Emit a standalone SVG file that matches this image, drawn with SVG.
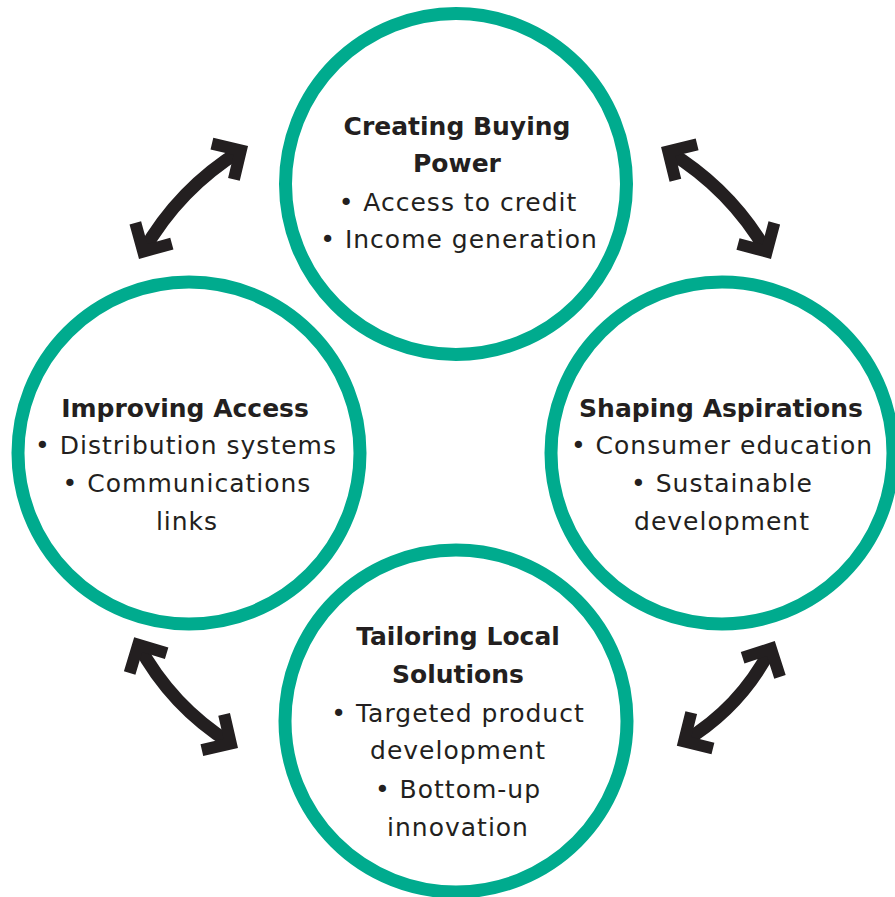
<svg xmlns="http://www.w3.org/2000/svg" width="895" height="897" viewBox="0 0 895 897">
<style>
.ring{fill:#fff;stroke:#00ab8e;stroke-width:13}
.t{font-family:"DejaVu Sans",sans-serif;font-size:25px;fill:#231f20;text-anchor:middle;letter-spacing:1px}
.b{font-weight:bold;letter-spacing:0}
.shaft{fill:none;stroke:#231f20;stroke-width:13;marker-start:url(#head);marker-end:url(#head)}
</style>
<defs>
<marker id="head" markerUnits="userSpaceOnUse" orient="auto-start-reverse" refX="0" refY="0" markerWidth="60" markerHeight="60" overflow="visible">
<path d="M -21 -21 L 0 0 L -21 21" fill="none" stroke="#231f20" stroke-width="12" stroke-linejoin="miter" stroke-miterlimit="10"/>
</marker>
</defs>
<rect width="895" height="897" fill="#fff"/>
<g id="connectors">
<path class="shaft" d="M 143.2 251.5 Q 179 188.5 240.8 150.5"/>
<path class="shaft" d="M 668.3 151.4 Q 730.3 188.9 766.7 251.6"/>
<path class="shaft" d="M 138.2 644.6 Q 171.4 706.3 230.8 743.4"/>
<path class="shaft" d="M 684.1 741.4 Q 740.7 707.3 770.9 648.6"/>
</g>
<g id="node-top">
<circle class="ring" cx="456" cy="184" r="170.5"/>
<text class="t b" x="457" y="135">Creating Buying</text>
<text class="t b" x="457" y="172">Power</text>
<text class="t" x="458" y="211">• Access to credit</text>
<text class="t" x="459" y="248">• Income generation</text>
</g>
<g id="node-left">
<circle class="ring" cx="189" cy="453" r="171"/>
<text class="t b" x="185" y="417">Improving Access</text>
<text class="t" x="186" y="454">• Distribution systems</text>
<text class="t" x="187" y="492">• Communications</text>
<text class="t" x="187" y="530">links</text>
</g>
<g id="node-right">
<circle class="ring" cx="722" cy="453" r="171"/>
<text class="t b" x="721" y="417">Shaping Aspirations</text>
<text class="t" x="722" y="454">• Consumer education</text>
<text class="t" x="722" y="492">• Sustainable</text>
<text class="t" x="722" y="530">development</text>
</g>
<g id="node-bottom">
<circle class="ring" cx="456" cy="721" r="171"/>
<text class="t b" x="458" y="645">Tailoring Local</text>
<text class="t b" x="458" y="683">Solutions</text>
<text class="t" x="458" y="722">• Targeted product</text>
<text class="t" x="458" y="759">development</text>
<text class="t" x="458" y="798">• Bottom-up</text>
<text class="t" x="458" y="836">innovation</text>
</g>
</svg>
